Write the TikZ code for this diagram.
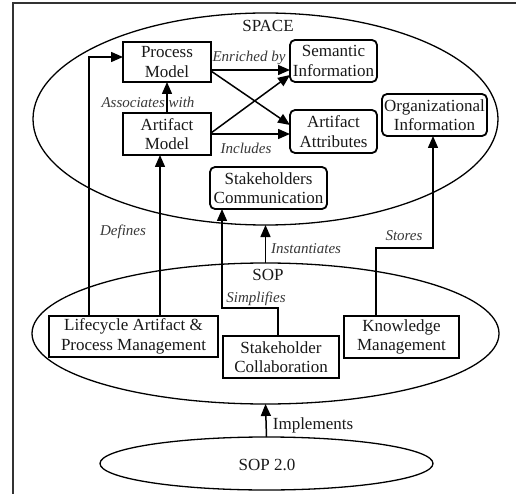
\documentclass[tikz,border=0pt]{standalone}
\usepackage{fontspec}
\setmainfont{Liberation Serif}
\usetikzlibrary{arrows.meta,shapes.geometric}
\begin{document}
\begin{tikzpicture}[x=1pt,y=-1pt,
  every node/.style={inner sep=0pt, outer sep=0pt},
  txt/.style={font=\fontsize{17}{19.5}\selectfont, text=black!90},
  lbl/.style={font=\fontsize{15}{17}\selectfont\itshape, text=black!78},
  block/.style={txt, draw, fill=white, line width=1.8pt, align=center},
  softblock/.style={block, rounded corners=5pt},
  zone/.style={draw, ellipse, line width=1.3pt},
  link/.style={line width=1.5pt, -{Triangle[length=12pt,width=10pt]}}]
\useasboundingbox (0,0) rectangle (516,494);
% outer frame
\draw[line width=2.6pt, black!80] (13,500) -- (13,3) -- (520,3);

% layers
\node[zone, minimum width=465pt, minimum height=212pt] (space) at (265.5,119) {};
\node[zone, minimum width=467pt, minimum height=141pt] (sop) at (265.5,333.5) {};
\node[zone, minimum width=333pt, minimum height=53pt] (sop2) at (266.5,463.5) {};

\node[txt] (spacet) at (268,26) {SPACE};
\node[txt] (sopt) at (268,275) {SOP};
\node[txt] (sop2t) at (267,465) {SOP 2.0};

% SPACE elements
\node[block, minimum width=88pt, minimum height=40pt] (pm) at (167,62) {Process\\Model};
\node[block, minimum width=88pt, minimum height=42pt] (am) at (167,134) {Artifact\\Model};
\node[softblock, minimum width=87pt, minimum height=42pt] (si) at (333.5,61) {Semantic\\Information};
\node[softblock, minimum width=87pt, minimum height=43pt] (aa) at (333.5,131.5) {Artifact\\Attributes};
\node[softblock, minimum width=105pt, minimum height=42pt] (oi) at (434.5,115) {Organizational\\Information};
\node[softblock, minimum width=117pt, minimum height=42pt] (sc) at (268.5,188) {Stakeholders\\Communication};

% SOP elements
\node[block, minimum width=169pt, minimum height=41pt] (lapm) at (133.5,336.5) {Lifecycle Artifact \&\\Process Management};
\node[block, minimum width=116pt, minimum height=42pt] (stc) at (281,357) {Stakeholder\\Collaboration};
\node[block, minimum width=115pt, minimum height=42pt] (km) at (401.5,337) {Knowledge\\Management};

% relations inside SPACE
\draw[link] ([yshift=-8pt]pm.east) -- ([yshift=-8pt]pm.east -| si.west);
\draw[link] ([yshift=-9pt]pm.east) -- ([yshift=6.5pt]aa.west);
\draw[link] ([yshift=1pt]am.east) -- ([yshift=-14pt]si.west);
\draw[link] (am.east) -- (am.east -| aa.west);
\draw[link] (am.north) -- (pm.south);

% relations from SOP to SPACE
\draw[link] ([xshift=-44.5pt]lapm.north) |- ([yshift=5pt]pm.west);
\draw[link] ([xshift=26.5pt]lapm.north) -- ([xshift=26.5pt]lapm.north |- am.south);
\draw[link] ([xshift=-3pt]stc.north) -- ++(0,-28) -| ([xshift=-46.5pt]sc.south);
\draw[link] ([xshift=-25.5pt]km.north) -- ++(0,-68) -| ([xshift=-1.5pt]oi.south);
\draw[link] (sop.north) -- (space.south);
\draw[link] (sop2.north) -- (sop.south);

% relation labels
\node[lbl] (l1) at (249,58) {Enriched by};
\node[lbl] (l2) at (246,148) {Includes};
\node[lbl] (l3) at (148,102) {Associates with};
\node[lbl] (l4) at (123,232) {Defines};
\node[lbl] (l5) at (306,249) {Instantiates};
\node[lbl] (l6) at (256,299) {Simplifies};
\node[lbl] (l7) at (404,236) {Stores};
\node[txt] (l8) at (313,425) {Implements};
\end{tikzpicture}
\end{document}
